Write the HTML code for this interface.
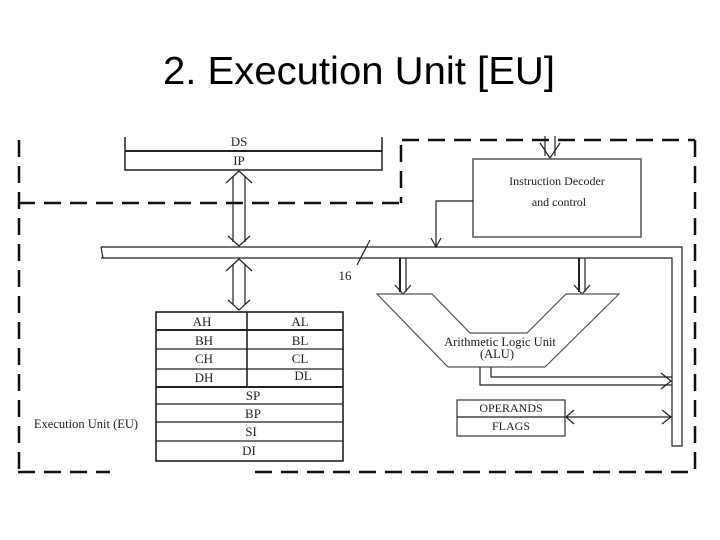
<!DOCTYPE html>
<html><head><meta charset="utf-8"><style>
html,body{margin:0;padding:0;background:#fff;}
svg{display:block;}
</style></head><body>
<svg width="720" height="540" viewBox="0 0 720 540" xmlns="http://www.w3.org/2000/svg">
<defs><clipPath id="c"><rect x="0" y="137" width="720" height="40"/></clipPath></defs>
<rect width="720" height="540" fill="#fff"/>
<text x="359" y="84" text-anchor="middle" font-family="Liberation Sans, sans-serif" font-size="39" fill="#000" textLength="392" lengthAdjust="spacingAndGlyphs">2. Execution Unit [EU]</text>

<g fill="none" stroke="#111" stroke-width="2.5" stroke-dasharray="17,9">
<line x1="19" y1="140" x2="19" y2="472"/>
<line x1="18" y1="203" x2="401" y2="203"/>
<line x1="401" y1="145" x2="401" y2="203"/>
<line x1="402" y1="140" x2="695" y2="140"/>
<line x1="695" y1="140" x2="695" y2="472"/>
<line x1="18" y1="472" x2="110" y2="472"/>
<line x1="255" y1="472" x2="695" y2="472"/>
</g>

<g fill="none" stroke="#222" stroke-width="1.2">
<polyline points="125,137 125,170 382,170 382,137" stroke-width="1.5"/>
<line x1="125" y1="151" x2="382" y2="151" stroke-width="2"/>
<line x1="233" y1="176" x2="233" y2="242"/><line x1="245" y1="176" x2="245" y2="242"/>
<polyline points="226,183 239,171 252,183"/><polyline points="228,236 239,246 250,236"/>
<line x1="233" y1="264" x2="233" y2="304"/><line x1="245" y1="264" x2="245" y2="304"/>
<polyline points="226,271 239,259 252,271"/><polyline points="228,300 239,310 250,300"/>
<polyline points="101,247 682,247 682,446 672,446 672,258 101,258"/>
<line x1="101" y1="247" x2="103" y2="258"/>
<line x1="370" y1="240" x2="357" y2="265"/>
<rect x="473" y="159" width="168" height="78" stroke="#555" stroke-width="1.5"/>
<line x1="545" y1="136" x2="545" y2="156"/><line x1="555" y1="136" x2="555" y2="156"/>
<polyline points="540,143 550,158 560,143"/>
<polyline points="473,201 436,201 436,246"/>
<polyline points="431,238 436,247 441,238"/>
<line x1="400" y1="258" x2="400" y2="292" stroke-width="2"/><line x1="406" y1="258" x2="406" y2="292"/>
<polyline points="395,285 403,294 411,285"/>
<line x1="579" y1="258" x2="579" y2="292" stroke-width="2"/><line x1="585" y1="258" x2="585" y2="292"/>
<polyline points="574,285 582,294 590,285"/>
<polygon points="377,294 432,294 470,333 527,333 566,294 619,294 545,367 448,367" stroke="#555"/>
<polyline points="491,367 491,377 672,377"/>
<polyline points="480,367 480,385 672,385"/>
<polyline points="661,373 671,381 661,389"/>
<rect x="457" y="400" width="108" height="36" stroke="#333"/>
<line x1="457" y1="417" x2="565" y2="417"/>
<line x1="566" y1="417" x2="671" y2="417"/>
<polyline points="574,410 566,417 574,424"/><polyline points="662,410 671,417 662,424"/>
<rect x="156" y="312" width="187" height="149" stroke="#111" stroke-width="1.5"/>
<line x1="156" y1="330" x2="343" y2="330" stroke-width="2"/>
<line x1="156" y1="349" x2="343" y2="349"/>
<line x1="156" y1="369" x2="343" y2="369"/>
<line x1="156" y1="387" x2="343" y2="387" stroke-width="2"/>
<line x1="156" y1="404" x2="343" y2="404"/>
<line x1="156" y1="422" x2="343" y2="422"/>
<line x1="156" y1="441" x2="343" y2="441"/>
<line x1="247" y1="312" x2="247" y2="387" stroke-width="1.6"/>
</g>

<g font-family="Liberation Serif, serif" font-size="13" fill="#222" text-anchor="middle">
<text x="239" y="146" clip-path="url(#c)">DS</text>
<text x="239" y="165">IP</text>
<text x="345" y="280">16</text>
<text x="557" y="185" font-size="12">Instruction Decoder</text>
<text x="559" y="206" font-size="12">and control</text>
<text x="500" y="346" font-size="12.5">Arithmetic Logic Unit</text>
<text x="497" y="358" font-size="12.5">(ALU)</text>
<text x="511" y="412" font-size="12">OPERANDS</text>
<text x="511" y="430" font-size="12">FLAGS</text>
<text x="202" y="326">AH</text><text x="300" y="326">AL</text>
<text x="204" y="345">BH</text><text x="300" y="345">BL</text>
<text x="204" y="363">CH</text><text x="300" y="363">CL</text>
<text x="204" y="382">DH</text><text x="303" y="380">DL</text>
<text x="253" y="400">SP</text>
<text x="253" y="418">BP</text>
<text x="251" y="436">SI</text>
<text x="249" y="455">DI</text>
<text x="86" y="428" font-size="12.5">Execution Unit (EU)</text>
</g>
</svg>
</body></html>
